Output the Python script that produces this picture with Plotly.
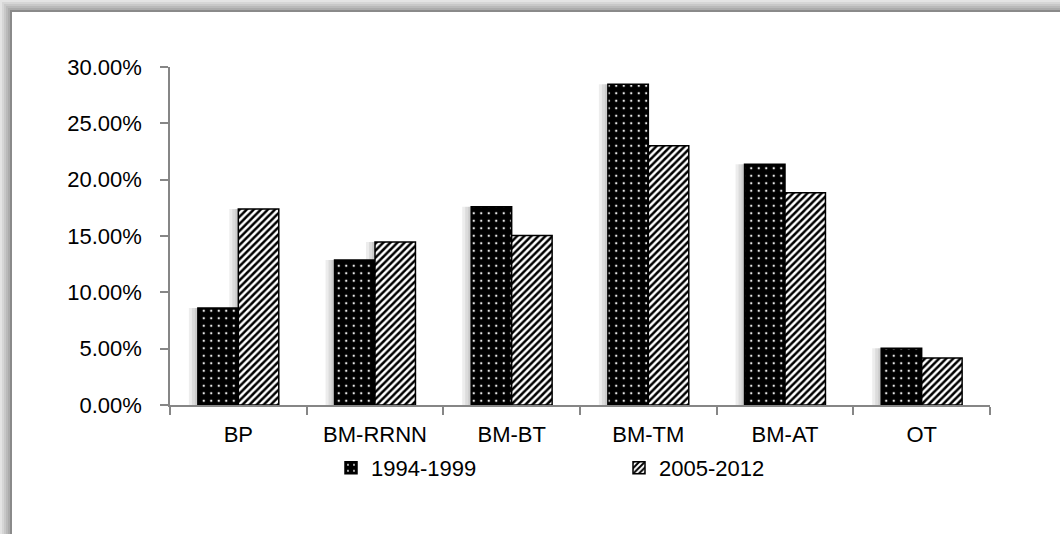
import plotly.graph_objects as go

# ---- data -------------------------------------------------------------
categories = ["BP", "BM-RRNN", "BM-BT", "BM-TM", "BM-AT", "OT"]
share_1994_1999 = [0.086, 0.1287, 0.176, 0.2848, 0.2136, 0.0503]
share_2005_2012 = [0.1739, 0.1446, 0.1505, 0.230, 0.1884, 0.0417]
series_names = ["1994-1999", "2005-2012"]
y_tick_values = [0.0, 0.05, 0.10, 0.15, 0.20, 0.25, 0.30]

# ---- geometry ---------------------------------------------------------
W, H = 1060, 534
L, R, T, B = 170, 70, 67, 129
PW, PH = W - L - R, H - T - B
FONT = "Liberation Sans, Arial, sans-serif"
FS = 22
AXIS_GREY = "#868686"

bar_w = 0.296                 # width of one bar, in category units
px_cat = PW / len(categories)  # pixels per category


def paper_x(px):
    return (px - L) / PW


def paper_y(py):
    return 1 - (py - T) / PH


fig = go.Figure()

# soft drop shadow behind each bar (layered translucent copies, shifted left)
for vals, off in ((share_1994_1999, -bar_w), (share_2005_2012, 0.0)):
    for k in (3, 6, 9):
        fig.add_trace(go.Bar(
            x=categories, y=vals, width=bar_w, offset=off - k / px_cat,
            marker=dict(color="rgba(0,0,0,0.07)", line=dict(width=0)),
            showlegend=False, hoverinfo="skip",
        ))

fig.add_trace(go.Bar(
    name=series_names[0], x=categories, y=share_1994_1999,
    width=bar_w, offset=-bar_w,
    marker=dict(
        color="black",
        line=dict(color="black", width=1.5),
        pattern=dict(shape=".", fgcolor="#e8e8e8", bgcolor="black",
                     size=7.5, solidity=0.08, fillmode="replace"),
    ),
))
fig.add_trace(go.Bar(
    name=series_names[1], x=categories, y=share_2005_2012,
    width=bar_w, offset=0.0,
    marker=dict(
        color="white",
        line=dict(color="black", width=1.5),
        pattern=dict(shape="/", fgcolor="black", bgcolor="white",
                     size=5, solidity=0.5, fillmode="replace"),
    ),
))

# chart frame: grey bevelled edge along the top and left
shapes = []
band = ["#e4e4e4", "#d6d6d6", "#c8c8c8", "#bababa", "#acacac", "#8a8a8a"]
for i, col in enumerate(band):
    y0, y1 = 2 * i, 2 * i + 2
    shapes.append(dict(type="rect", xref="paper", yref="paper", layer="above",
                       x0=paper_x(2 * i), x1=paper_x(W), y0=paper_y(y1), y1=paper_y(y0),
                       fillcolor=col, line=dict(width=0)))
    shapes.append(dict(type="rect", xref="paper", yref="paper", layer="above",
                       x0=paper_x(2 * i), x1=paper_x(2 * i + 2), y0=paper_y(H), y1=paper_y(2 * i),
                       fillcolor=col, line=dict(width=0)))

fig.update_layout(
    width=W, height=H,
    margin=dict(l=L, r=R, t=T, b=B),
    paper_bgcolor="white", plot_bgcolor="white",
    barmode="overlay",
    font=dict(family=FONT, size=FS, color="black"),
    shapes=shapes,
    showlegend=True,
    legend=dict(
        orientation="h", x=paper_x(331), xanchor="left",
        y=paper_y(468), yanchor="middle",
        entrywidth=243, entrywidthmode="pixels",
        font=dict(family=FONT, size=FS, color="black"),
        bgcolor="rgba(0,0,0,0)", traceorder="normal",
    ),
    xaxis=dict(
        type="category", range=[-0.5, len(categories) - 0.5],
        showline=True, linecolor=AXIS_GREY, linewidth=1.5,
        ticks="outside", tickson="boundaries", ticklen=8, tickwidth=1.5,
        tickcolor=AXIS_GREY, showgrid=False, ticklabelstandoff=9,
        tickfont=dict(family=FONT, size=FS, color="black"),
    ),
    yaxis=dict(
        range=[0, 0.30], tickvals=y_tick_values, tickformat=".2%",
        showline=True, linecolor=AXIS_GREY, linewidth=1.5,
        ticks="outside", ticklen=8, tickwidth=1.5, tickcolor=AXIS_GREY,
        showgrid=False, zeroline=False, ticklabelstandoff=14,
        tickfont=dict(family=FONT, size=FS, color="black"),
    ),
)

fig.write_html("out.html")
